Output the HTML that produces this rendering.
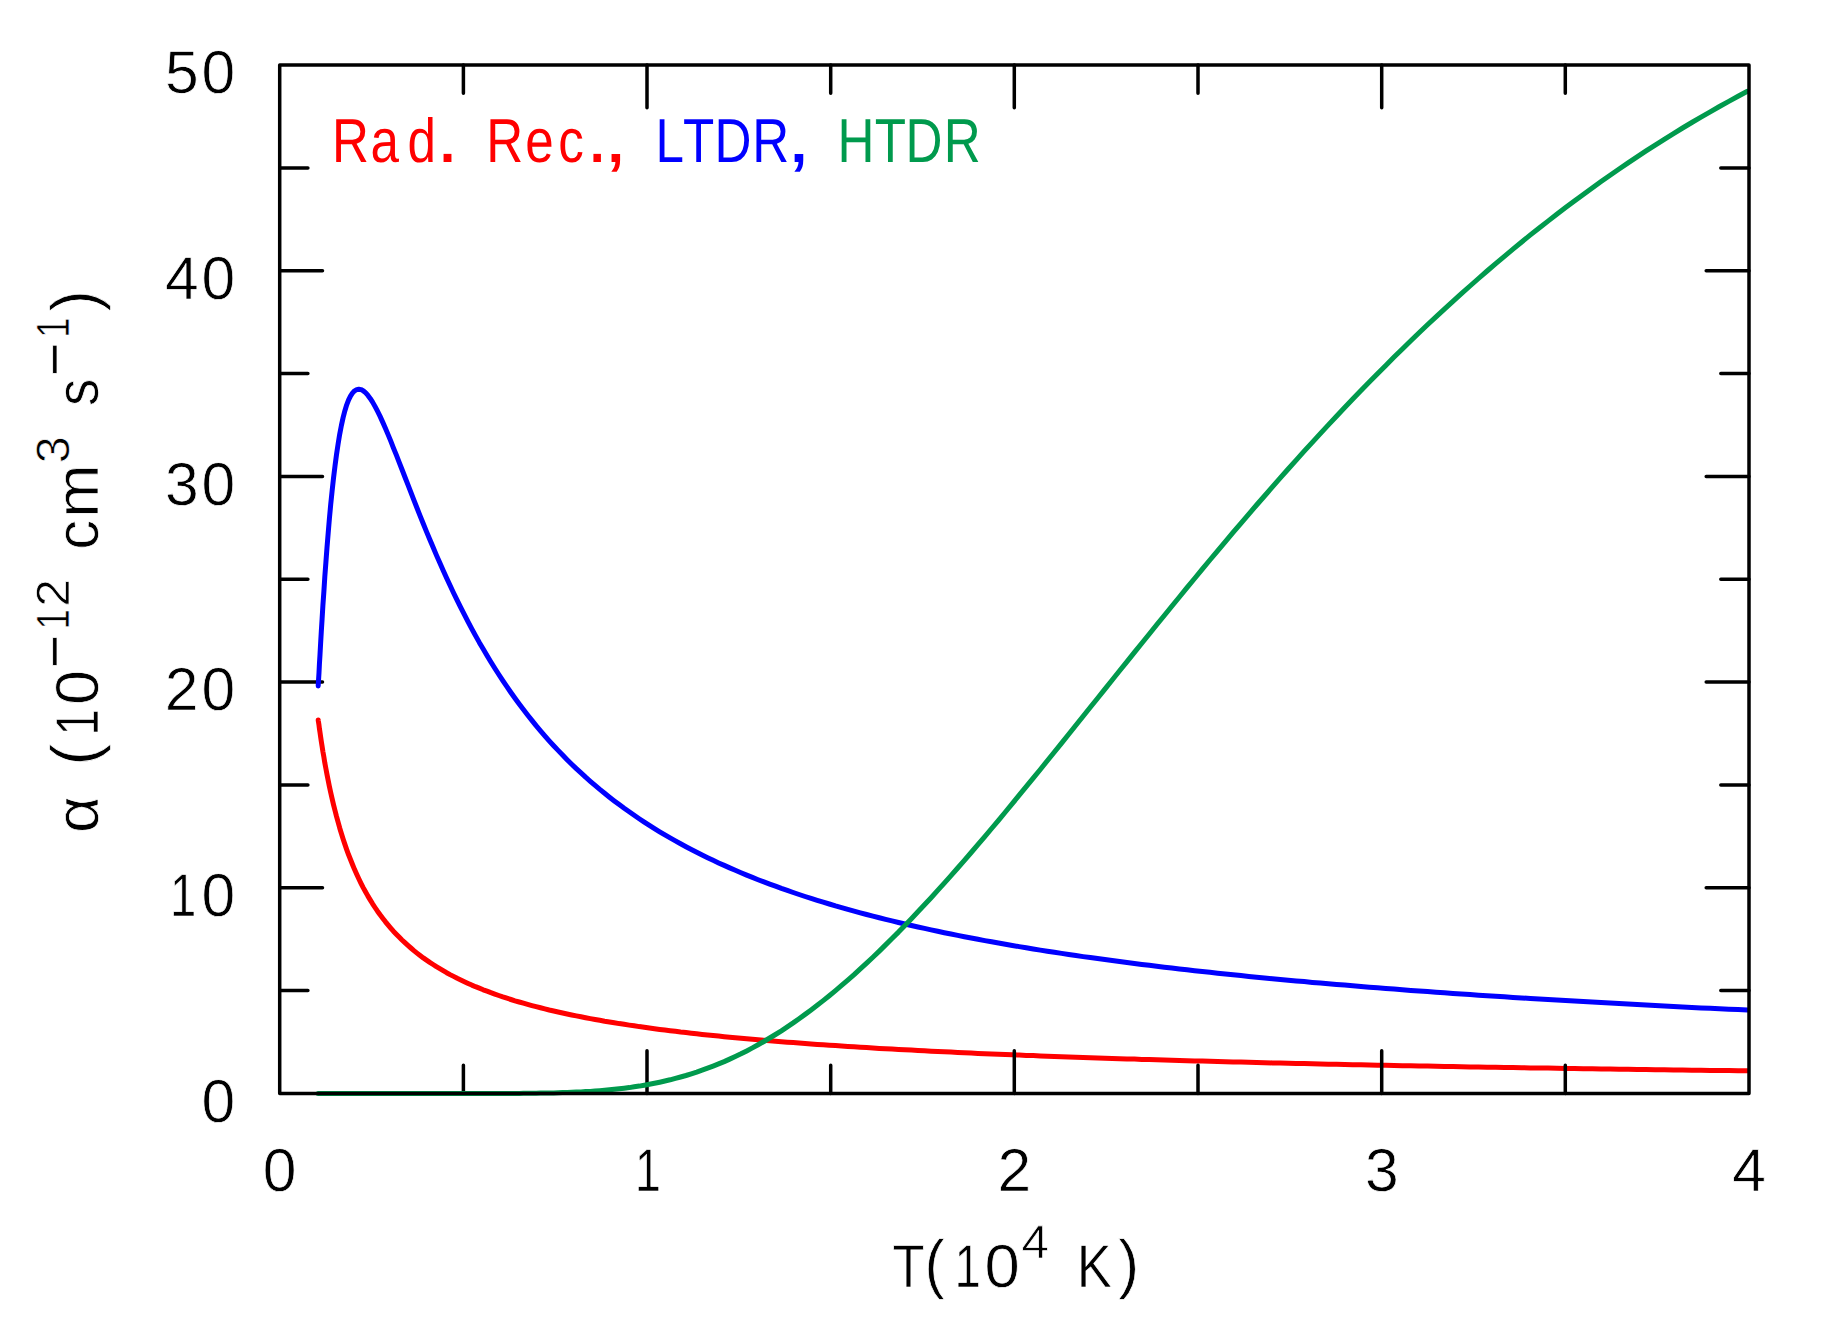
<!DOCTYPE html>
<html lang="en"><head><meta charset="utf-8"><title>Recombination rate coefficients</title>
<style>html,body{margin:0;padding:0;background:#fff;overflow:hidden}svg{display:block}text{font-family:"Liberation Sans",Arial,Helvetica,sans-serif;text-rendering:geometricPrecision}.k{fill:#000;stroke:#fff;stroke-width:0.7px}</style></head><body>
<svg width="1830" height="1325" viewBox="0 0 1830 1325">
<rect width="1830" height="1325" fill="#fff"/>
<g fill="none" stroke-linecap="round" stroke-linejoin="round">
<path stroke="#ff0000" stroke-width="5.0" d="M318.2 719.9 L318.3 720.8 L318.6 722.6 L319.0 725.2 L319.4 728.5 L320.0 732.3 L320.6 736.6 L321.3 741.3 L322.1 746.3 L322.9 751.6 L323.9 757.1 L324.8 762.8 L325.9 768.6 L327.0 774.5 L328.2 780.5 L329.4 786.5 L330.7 792.6 L332.1 798.6 L333.5 804.6 L335.0 810.5 L336.5 816.4 L338.1 822.1 L339.7 827.9 L341.4 833.5 L343.1 839.0 L344.9 844.4 L346.7 849.6 L348.6 854.8 L350.6 859.8 L352.6 864.8 L354.6 869.6 L356.7 874.3 L358.8 878.8 L361.0 883.3 L363.2 887.6 L365.5 891.8 L367.8 895.9 L370.2 899.9 L372.6 903.8 L375.0 907.5 L377.5 911.2 L380.1 914.8 L382.7 918.2 L385.3 921.6 L388.0 924.9 L390.7 928.1 L393.4 931.2 L396.3 934.2 L399.1 937.1 L402.0 940.0 L404.9 942.7 L407.9 945.4 L410.9 948.0 L413.9 950.6 L417.0 953.1 L420.1 955.5 L423.3 957.9 L426.5 960.1 L429.8 962.4 L433.1 964.5 L436.4 966.7 L439.8 968.7 L443.2 970.7 L446.6 972.7 L450.1 974.6 L453.6 976.4 L457.2 978.3 L460.8 980.0 L464.4 981.7 L468.1 983.4 L471.8 985.1 L475.5 986.7 L479.3 988.2 L483.2 989.8 L487.0 991.2 L490.9 992.7 L494.8 994.1 L498.8 995.5 L502.8 996.9 L506.9 998.2 L510.9 999.5 L515.0 1000.8 L519.2 1002.0 L523.4 1003.2 L527.6 1004.4 L531.9 1005.6 L536.1 1006.7 L540.5 1007.8 L544.8 1008.9 L549.2 1010.0 L553.7 1011.0 L558.1 1012.0 L562.6 1013.0 L567.1 1014.0 L571.7 1015.0 L576.3 1015.9 L581.0 1016.8 L585.6 1017.7 L590.3 1018.6 L595.1 1019.5 L599.8 1020.3 L604.6 1021.2 L609.5 1022.0 L614.3 1022.8 L619.2 1023.6 L624.2 1024.3 L629.2 1025.1 L634.2 1025.8 L639.2 1026.6 L644.3 1027.3 L649.4 1028.0 L654.5 1028.7 L659.7 1029.4 L664.9 1030.0 L670.1 1030.7 L675.4 1031.3 L680.6 1032.0 L686.0 1032.6 L691.3 1033.2 L696.7 1033.8 L702.1 1034.4 L707.6 1035.0 L713.1 1035.5 L718.6 1036.1 L724.2 1036.7 L729.7 1037.2 L735.3 1037.7 L741.0 1038.3 L746.7 1038.8 L752.4 1039.3 L758.1 1039.8 L763.9 1040.3 L769.7 1040.8 L775.5 1041.3 L781.4 1041.7 L787.3 1042.2 L793.2 1042.6 L799.1 1043.1 L805.1 1043.5 L811.1 1044.0 L817.2 1044.4 L823.2 1044.8 L829.3 1045.2 L835.5 1045.6 L841.6 1046.1 L847.8 1046.5 L854.1 1046.8 L860.3 1047.2 L866.6 1047.6 L872.9 1048.0 L879.3 1048.4 L885.6 1048.7 L892.0 1049.1 L898.5 1049.4 L904.9 1049.8 L911.4 1050.1 L917.9 1050.5 L924.5 1050.8 L931.1 1051.2 L937.7 1051.5 L944.3 1051.8 L951.0 1052.1 L957.7 1052.4 L964.4 1052.7 L971.2 1053.1 L977.9 1053.4 L984.8 1053.7 L991.6 1054.0 L998.5 1054.2 L1005.4 1054.5 L1012.3 1054.8 L1019.2 1055.1 L1026.2 1055.4 L1033.2 1055.6 L1040.3 1055.9 L1047.3 1056.2 L1054.4 1056.4 L1061.6 1056.7 L1068.7 1057.0 L1075.9 1057.2 L1083.1 1057.5 L1090.3 1057.7 L1097.6 1058.0 L1104.9 1058.2 L1112.2 1058.4 L1119.6 1058.7 L1127.0 1058.9 L1134.4 1059.1 L1141.8 1059.4 L1149.3 1059.6 L1156.7 1059.8 L1164.3 1060.0 L1171.8 1060.3 L1179.4 1060.5 L1187.0 1060.7 L1194.6 1060.9 L1202.3 1061.1 L1209.9 1061.3 L1217.6 1061.5 L1225.4 1061.7 L1233.1 1061.9 L1240.9 1062.1 L1248.8 1062.3 L1256.6 1062.5 L1264.5 1062.7 L1272.4 1062.9 L1280.3 1063.1 L1288.2 1063.3 L1296.2 1063.4 L1304.2 1063.6 L1312.3 1063.8 L1320.3 1064.0 L1328.4 1064.2 L1336.5 1064.3 L1344.7 1064.5 L1352.8 1064.7 L1361.0 1064.8 L1369.3 1065.0 L1377.5 1065.2 L1385.8 1065.3 L1394.1 1065.5 L1402.4 1065.7 L1410.8 1065.8 L1419.1 1066.0 L1427.5 1066.1 L1436.0 1066.3 L1444.4 1066.4 L1452.9 1066.6 L1461.4 1066.7 L1470.0 1066.9 L1478.5 1067.0 L1487.1 1067.2 L1495.7 1067.3 L1504.4 1067.5 L1513.0 1067.6 L1521.7 1067.7 L1530.4 1067.9 L1539.2 1068.0 L1548.0 1068.1 L1556.8 1068.3 L1565.6 1068.4 L1574.4 1068.5 L1583.3 1068.7 L1592.2 1068.8 L1601.1 1068.9 L1610.1 1069.1 L1619.1 1069.2 L1628.1 1069.3 L1637.1 1069.4 L1646.1 1069.6 L1655.2 1069.7 L1664.3 1069.8 L1673.5 1069.9 L1682.6 1070.0 L1691.8 1070.2 L1701.0 1070.3 L1710.2 1070.4 L1719.5 1070.5 L1728.8 1070.6 L1738.1 1070.7 L1747.4 1070.8"/>
<path stroke="#000" stroke-width="3.5" d="M463.4 1093.5V1065.3M463.4 65.0V93.2M647.0 1093.5V1050.7M647.0 65.0V107.8M830.7 1093.5V1065.3M830.7 65.0V93.2M1014.3 1093.5V1050.7M1014.3 65.0V107.8M1198.0 1093.5V1065.3M1198.0 65.0V93.2M1381.7 1093.5V1050.7M1381.7 65.0V107.8M1565.3 1093.5V1065.3M1565.3 65.0V93.2M279.7 990.6H307.9M1749.0 990.6H1720.8M279.7 887.8H322.5M1749.0 887.8H1706.2M279.7 785.0H307.9M1749.0 785.0H1720.8M279.7 682.1H322.5M1749.0 682.1H1706.2M279.7 579.2H307.9M1749.0 579.2H1720.8M279.7 476.4H322.5M1749.0 476.4H1706.2M279.7 373.5H307.9M1749.0 373.5H1720.8M279.7 270.7H322.5M1749.0 270.7H1706.2M279.7 167.9H307.9M1749.0 167.9H1720.8"/>
<path stroke="#0000ff" stroke-width="5.0" d="M318.2 686.0 L318.3 683.9 L318.6 679.2 L319.0 672.6 L319.4 664.3 L320.0 654.6 L320.6 643.6 L321.3 631.6 L322.1 618.8 L322.9 605.3 L323.9 591.2 L324.8 576.8 L325.9 562.2 L327.0 547.5 L328.2 532.9 L329.4 518.6 L330.7 504.6 L332.1 491.1 L333.5 478.2 L335.0 466.0 L336.5 454.6 L338.1 444.0 L339.7 434.2 L341.4 425.4 L343.1 417.6 L344.9 410.7 L346.7 404.8 L348.6 399.9 L350.6 395.9 L352.6 392.9 L354.6 390.8 L356.7 389.6 L358.8 389.2 L361.0 389.6 L363.2 390.7 L365.5 392.6 L367.8 395.2 L370.2 398.4 L372.6 402.1 L375.0 406.4 L377.5 411.2 L380.1 416.4 L382.7 422.1 L385.3 428.0 L388.0 434.4 L390.7 440.9 L393.4 447.8 L396.3 454.9 L399.1 462.1 L402.0 469.5 L404.9 477.0 L407.9 484.7 L410.9 492.4 L413.9 500.2 L417.0 508.0 L420.1 515.9 L423.3 523.8 L426.5 531.6 L429.8 539.5 L433.1 547.3 L436.4 555.1 L439.8 562.8 L443.2 570.4 L446.6 578.0 L450.1 585.5 L453.6 593.0 L457.2 600.3 L460.8 607.6 L464.4 614.7 L468.1 621.8 L471.8 628.8 L475.5 635.6 L479.3 642.4 L483.2 649.0 L487.0 655.5 L490.9 662.0 L494.8 668.3 L498.8 674.5 L502.8 680.6 L506.9 686.6 L510.9 692.5 L515.0 698.3 L519.2 704.0 L523.4 709.5 L527.6 715.0 L531.9 720.4 L536.1 725.6 L540.5 730.8 L544.8 735.8 L549.2 740.8 L553.7 745.7 L558.1 750.4 L562.6 755.1 L567.1 759.7 L571.7 764.2 L576.3 768.6 L581.0 772.9 L585.6 777.2 L590.3 781.3 L595.1 785.4 L599.8 789.4 L604.6 793.3 L609.5 797.2 L614.3 800.9 L619.2 804.6 L624.2 808.3 L629.2 811.8 L634.2 815.3 L639.2 818.7 L644.3 822.1 L649.4 825.4 L654.5 828.6 L659.7 831.8 L664.9 834.9 L670.1 837.9 L675.4 840.9 L680.6 843.8 L686.0 846.7 L691.3 849.5 L696.7 852.3 L702.1 855.0 L707.6 857.7 L713.1 860.3 L718.6 862.9 L724.2 865.4 L729.7 867.9 L735.3 870.3 L741.0 872.7 L746.7 875.1 L752.4 877.4 L758.1 879.7 L763.9 881.9 L769.7 884.1 L775.5 886.2 L781.4 888.4 L787.3 890.4 L793.2 892.5 L799.1 894.5 L805.1 896.5 L811.1 898.4 L817.2 900.3 L823.2 902.2 L829.3 904.0 L835.5 905.9 L841.6 907.6 L847.8 909.4 L854.1 911.1 L860.3 912.8 L866.6 914.5 L872.9 916.2 L879.3 917.8 L885.6 919.4 L892.0 920.9 L898.5 922.5 L904.9 924.0 L911.4 925.5 L917.9 927.0 L924.5 928.4 L931.1 929.9 L937.7 931.3 L944.3 932.7 L951.0 934.0 L957.7 935.4 L964.4 936.7 L971.2 938.0 L977.9 939.3 L984.8 940.6 L991.6 941.8 L998.5 943.0 L1005.4 944.3 L1012.3 945.5 L1019.2 946.6 L1026.2 947.8 L1033.2 949.0 L1040.3 950.1 L1047.3 951.2 L1054.4 952.3 L1061.6 953.4 L1068.7 954.5 L1075.9 955.5 L1083.1 956.6 L1090.3 957.6 L1097.6 958.6 L1104.9 959.6 L1112.2 960.6 L1119.6 961.6 L1127.0 962.5 L1134.4 963.5 L1141.8 964.4 L1149.3 965.3 L1156.7 966.3 L1164.3 967.2 L1171.8 968.1 L1179.4 968.9 L1187.0 969.8 L1194.6 970.7 L1202.3 971.5 L1209.9 972.3 L1217.6 973.2 L1225.4 974.0 L1233.1 974.8 L1240.9 975.6 L1248.8 976.4 L1256.6 977.2 L1264.5 977.9 L1272.4 978.7 L1280.3 979.4 L1288.2 980.2 L1296.2 980.9 L1304.2 981.6 L1312.3 982.4 L1320.3 983.1 L1328.4 983.8 L1336.5 984.5 L1344.7 985.1 L1352.8 985.8 L1361.0 986.5 L1369.3 987.2 L1377.5 987.8 L1385.8 988.5 L1394.1 989.1 L1402.4 989.7 L1410.8 990.4 L1419.1 991.0 L1427.5 991.6 L1436.0 992.2 L1444.4 992.8 L1452.9 993.4 L1461.4 994.0 L1470.0 994.6 L1478.5 995.2 L1487.1 995.7 L1495.7 996.3 L1504.4 996.8 L1513.0 997.4 L1521.7 997.9 L1530.4 998.5 L1539.2 999.0 L1548.0 999.6 L1556.8 1000.1 L1565.6 1000.6 L1574.4 1001.1 L1583.3 1001.6 L1592.2 1002.1 L1601.1 1002.6 L1610.1 1003.1 L1619.1 1003.6 L1628.1 1004.1 L1637.1 1004.6 L1646.1 1005.1 L1655.2 1005.5 L1664.3 1006.0 L1673.5 1006.5 L1682.6 1006.9 L1691.8 1007.4 L1701.0 1007.9 L1710.2 1008.3 L1719.5 1008.7 L1728.8 1009.2 L1738.1 1009.6 L1747.4 1010.1"/>
<path stroke="#009a4d" stroke-width="5.0" d="M318.2 1093.5 L318.3 1093.5 L318.6 1093.5 L319.0 1093.5 L319.4 1093.5 L320.0 1093.5 L320.6 1093.5 L321.3 1093.5 L322.1 1093.5 L322.9 1093.5 L323.9 1093.5 L324.8 1093.5 L325.9 1093.5 L327.0 1093.5 L328.2 1093.5 L329.4 1093.5 L330.7 1093.5 L332.1 1093.5 L333.5 1093.5 L335.0 1093.5 L336.5 1093.5 L338.1 1093.5 L339.7 1093.5 L341.4 1093.5 L343.1 1093.5 L344.9 1093.5 L346.7 1093.5 L348.6 1093.5 L350.6 1093.5 L352.6 1093.5 L354.6 1093.5 L356.7 1093.5 L358.8 1093.5 L361.0 1093.5 L363.2 1093.5 L365.5 1093.5 L367.8 1093.5 L370.2 1093.5 L372.6 1093.5 L375.0 1093.5 L377.5 1093.5 L380.1 1093.5 L382.7 1093.5 L385.3 1093.5 L388.0 1093.5 L390.7 1093.5 L393.4 1093.5 L396.3 1093.5 L399.1 1093.5 L402.0 1093.5 L404.9 1093.5 L407.9 1093.5 L410.9 1093.5 L413.9 1093.5 L417.0 1093.5 L420.1 1093.5 L423.3 1093.5 L426.5 1093.5 L429.8 1093.5 L433.1 1093.5 L436.4 1093.5 L439.8 1093.5 L443.2 1093.5 L446.6 1093.5 L450.1 1093.5 L453.6 1093.5 L457.2 1093.5 L460.8 1093.5 L464.4 1093.5 L468.1 1093.5 L471.8 1093.5 L475.5 1093.5 L479.3 1093.5 L483.2 1093.5 L487.0 1093.5 L490.9 1093.5 L494.8 1093.5 L498.8 1093.5 L502.8 1093.4 L506.9 1093.4 L510.9 1093.4 L515.0 1093.4 L519.2 1093.4 L523.4 1093.3 L527.6 1093.3 L531.9 1093.3 L536.1 1093.2 L540.5 1093.1 L544.8 1093.1 L549.2 1093.0 L553.7 1092.9 L558.1 1092.8 L562.6 1092.6 L567.1 1092.5 L571.7 1092.3 L576.3 1092.1 L581.0 1091.9 L585.6 1091.6 L590.3 1091.4 L595.1 1091.0 L599.8 1090.7 L604.6 1090.3 L609.5 1089.8 L614.3 1089.3 L619.2 1088.8 L624.2 1088.2 L629.2 1087.6 L634.2 1086.8 L639.2 1086.1 L644.3 1085.2 L649.4 1084.3 L654.5 1083.3 L659.7 1082.2 L664.9 1081.0 L670.1 1079.8 L675.4 1078.4 L680.6 1077.0 L686.0 1075.5 L691.3 1073.8 L696.7 1072.1 L702.1 1070.2 L707.6 1068.2 L713.1 1066.1 L718.6 1063.9 L724.2 1061.6 L729.7 1059.1 L735.3 1056.5 L741.0 1053.8 L746.7 1050.9 L752.4 1047.9 L758.1 1044.7 L763.9 1041.5 L769.7 1038.0 L775.5 1034.5 L781.4 1030.8 L787.3 1026.9 L793.2 1022.9 L799.1 1018.7 L805.1 1014.4 L811.1 1009.9 L817.2 1005.3 L823.2 1000.6 L829.3 995.7 L835.5 990.6 L841.6 985.4 L847.8 980.1 L854.1 974.6 L860.3 968.9 L866.6 963.1 L872.9 957.2 L879.3 951.1 L885.6 944.9 L892.0 938.5 L898.5 932.1 L904.9 925.4 L911.4 918.7 L917.9 911.8 L924.5 904.8 L931.1 897.7 L937.7 890.4 L944.3 883.1 L951.0 875.6 L957.7 868.0 L964.4 860.3 L971.2 852.5 L977.9 844.6 L984.8 836.6 L991.6 828.5 L998.5 820.3 L1005.4 812.0 L1012.3 803.7 L1019.2 795.2 L1026.2 786.7 L1033.2 778.1 L1040.3 769.5 L1047.3 760.8 L1054.4 752.0 L1061.6 743.2 L1068.7 734.3 L1075.9 725.3 L1083.1 716.3 L1090.3 707.3 L1097.6 698.2 L1104.9 689.1 L1112.2 680.0 L1119.6 670.8 L1127.0 661.7 L1134.4 652.4 L1141.8 643.2 L1149.3 634.0 L1156.7 624.7 L1164.3 615.5 L1171.8 606.2 L1179.4 597.0 L1187.0 587.7 L1194.6 578.5 L1202.3 569.2 L1209.9 560.0 L1217.6 550.8 L1225.4 541.6 L1233.1 532.4 L1240.9 523.3 L1248.8 514.1 L1256.6 505.0 L1264.5 496.0 L1272.4 486.9 L1280.3 477.9 L1288.2 469.0 L1296.2 460.1 L1304.2 451.2 L1312.3 442.4 L1320.3 433.6 L1328.4 424.9 L1336.5 416.2 L1344.7 407.6 L1352.8 399.0 L1361.0 390.5 L1369.3 382.1 L1377.5 373.7 L1385.8 365.4 L1394.1 357.1 L1402.4 349.0 L1410.8 340.8 L1419.1 332.8 L1427.5 324.8 L1436.0 316.9 L1444.4 309.1 L1452.9 301.3 L1461.4 293.6 L1470.0 286.0 L1478.5 278.5 L1487.1 271.0 L1495.7 263.6 L1504.4 256.3 L1513.0 249.1 L1521.7 242.0 L1530.4 234.9 L1539.2 228.0 L1548.0 221.1 L1556.8 214.3 L1565.6 207.6 L1574.4 200.9 L1583.3 194.4 L1592.2 187.9 L1601.1 181.5 L1610.1 175.2 L1619.1 169.0 L1628.1 162.9 L1637.1 156.9 L1646.1 150.9 L1655.2 145.1 L1664.3 139.3 L1673.5 133.6 L1682.6 128.0 L1691.8 122.5 L1701.0 117.1 L1710.2 111.8 L1719.5 106.5 L1728.8 101.4 L1738.1 96.3 L1747.4 91.3"/>
<rect x="279.7" y="65.0" width="1469.3" height="1028.5" stroke="#000" stroke-width="3.5"/>
</g>
<text transform="scale(0.825 1)" x="402.5 449.2 493.9 533.8 561.5 589.3 636.6 676.8 715.3 737.6" y="162.2" font-size="62.0" fill="#ff0000">Rad<tspan x="528.4" font-size="76" textLength="27.9" lengthAdjust="spacingAndGlyphs">.</tspan> Rec<tspan x="710.7" font-size="76" textLength="26.5" lengthAdjust="spacingAndGlyphs">.</tspan><tspan x="731.1" font-size="76" textLength="30.2" lengthAdjust="spacingAndGlyphs">,</tspan></text>
<text transform="scale(0.825 1)" x="794.6 827.8 866.2 911.7 959.7" y="162.2" font-size="62.0" fill="#0000ff">LTDR<tspan x="953.0" font-size="76" textLength="30.5" lengthAdjust="spacingAndGlyphs">,</tspan></text>
<text transform="scale(0.825 1)" x="1015.3 1060.2 1097.5 1144.0" y="162.2" font-size="62.0" fill="#009a4d">HTDR</text>
<text class="k" x="201.5" y="1121.8" font-size="60.6">0</text>
<text class="k" x="170.0 201.5" y="916.1" font-size="60.6"><tspan x="170.0" textLength="26.3" lengthAdjust="spacingAndGlyphs">1</tspan>0</text>
<text class="k" x="164.8 201.5" y="710.4" font-size="60.6">20</text>
<text class="k" x="165.0 201.5" y="504.7" font-size="60.6">30</text>
<text class="k" x="165.0 201.5" y="299.0" font-size="60.6">40</text>
<text class="k" x="164.9 201.5" y="93.3" font-size="60.6">50</text>
<text class="k" x="262.8" y="1191.0" font-size="60.6">0</text>
<text class="k" x="634.8" y="1191.0" font-size="60.6"><tspan x="634.8" textLength="26.3" lengthAdjust="spacingAndGlyphs">1</tspan></text>
<text class="k" x="997.5" y="1191.0" font-size="60.6">2</text>
<text class="k" x="1365.0" y="1191.0" font-size="60.6">3</text>
<text class="k" x="1732.3" y="1191.0" font-size="60.6">4</text>
<text class="k" font-size="60.6"><tspan x="892.5" y="1287.0" textLength="32.0" lengthAdjust="spacingAndGlyphs">T</tspan><tspan x="924.5" y="1285.8" textLength="20.2" lengthAdjust="spacingAndGlyphs" font-size="65.5">(</tspan><tspan x="954.5" y="1287.0" textLength="26.3" lengthAdjust="spacingAndGlyphs">1</tspan><tspan x="984.6" y="1287.0" textLength="35.3" lengthAdjust="spacingAndGlyphs">0</tspan><tspan x="1021.4" y="1258.0" textLength="27.4" lengthAdjust="spacingAndGlyphs" font-size="46.8">4</tspan> <tspan x="1076.8" y="1287.0" textLength="35.1" lengthAdjust="spacingAndGlyphs">K</tspan><tspan x="1118.2" y="1285.8" textLength="21.0" lengthAdjust="spacingAndGlyphs" font-size="65.5">)</tspan></text>
<text class="k" transform="translate(98.4 830.3) rotate(-90)" font-size="60.6"><tspan x="-2.7" y="0.0" textLength="36.7" lengthAdjust="spacingAndGlyphs">α</tspan> <tspan x="64.7" y="-1.2" textLength="21.6" lengthAdjust="spacingAndGlyphs" font-size="65.5">(</tspan><tspan x="94.8" y="0.0" textLength="26.3" lengthAdjust="spacingAndGlyphs">1</tspan><tspan x="125.2" y="0.0" textLength="35.0" lengthAdjust="spacingAndGlyphs">0</tspan><tspan x="162.1" y="-23.2" textLength="33.3" lengthAdjust="spacingAndGlyphs" font-size="60.6">−</tspan><tspan x="200.9" y="-29.3" textLength="20.3" lengthAdjust="spacingAndGlyphs" font-size="46.8">1</tspan><tspan x="223.5" y="-29.3" textLength="27.7" lengthAdjust="spacingAndGlyphs" font-size="46.8">2</tspan> <tspan x="280.6" y="0.0" textLength="29.9" lengthAdjust="spacingAndGlyphs">c</tspan><tspan x="312.6" y="0.0" textLength="53.4" lengthAdjust="spacingAndGlyphs">m</tspan><tspan x="367.1" y="-29.3" textLength="27.0" lengthAdjust="spacingAndGlyphs" font-size="46.8">3</tspan> <tspan x="424.4" y="0.0" textLength="27.4" lengthAdjust="spacingAndGlyphs">s</tspan><tspan x="454.0" y="-23.2" textLength="33.8" lengthAdjust="spacingAndGlyphs" font-size="60.6">−</tspan><tspan x="492.5" y="-29.3" textLength="20.3" lengthAdjust="spacingAndGlyphs" font-size="46.8">1</tspan><tspan x="518.7" y="-1.2" textLength="21.2" lengthAdjust="spacingAndGlyphs" font-size="65.5">)</tspan></text>
</svg></body></html>
